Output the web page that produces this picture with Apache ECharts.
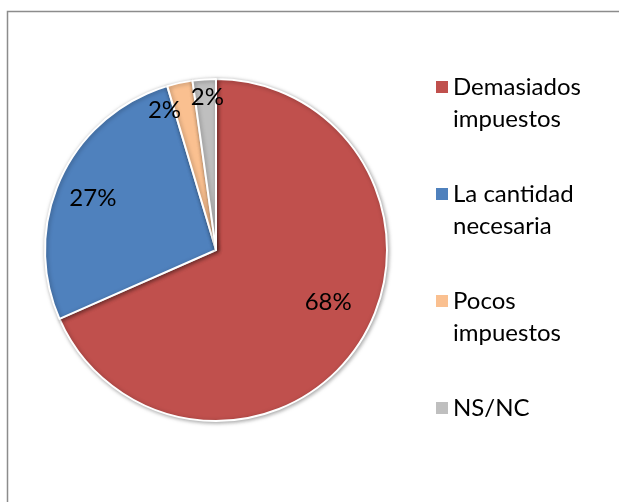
<!DOCTYPE html>
<html>
<head>
<meta charset="utf-8">
<script src="https://cdn.jsdelivr.net/npm/echarts@6/dist/echarts.min.js"></script>
<style>
  html, body { margin: 0; padding: 0; background: #fff; }
  #chart { width: 619px; height: 502px; }
</style>
</head>
<body>
<div id="chart"></div>
<script>
const categories = ['Demasiados impuestos', 'La cantidad necesaria', 'Pocos impuestos', 'NS/NC'];
const values = [68.4, 27.0, 2.4, 2.2];
const colors = ['#C0504D', '#4F81BD', '#FAC090', '#BFBFBF'];

const FONT = 'Lato';
const pieData = categories.map((name, i) => ({ name: name, value: values[i] }));

// legend: blank line on top so the marker sits next to the first line
function legendName(name) {
    const k = name.lastIndexOf(' ');
    const body = k < 0 ? name + '\n ' : name.slice(0, k) + '\n' + name.slice(k + 1);
    return ' \n' + body;
}

// small nudges so the labels sit where the original's do
const labelNudge = [[5, -18], [-7, 2], [-19, 10], [2, 0]];

const chart = echarts.init(document.getElementById('chart'), null, { renderer: 'canvas' });

const labelStyle = {
    position: 'inside',
    fontFamily: FONT,
    fontSize: 24,
    color: '#000'
};

function nudge(params) {
    const n = labelNudge[params.dataIndex];
    return { dx: n[0], dy: n[1], hideOverlap: false };
}

const option = {
    animation: false,
    color: colors,
    graphic: [{
        type: 'rect',
        shape: { x: 7.5, y: 11.5, width: 700, height: 600 },
        style: { fill: 'none', stroke: '#8c8c8c', lineWidth: 1.5 },
        silent: true
    }],
    legend: {
        orient: 'vertical',
        left: 431,
        top: 34,
        itemWidth: 12,
        itemHeight: 12,
        itemGap: 11,
        icon: 'rect',
        formatter: legendName,
        itemStyle: { borderWidth: 0, shadowBlur: 0, shadowOffsetX: 0, shadowOffsetY: 0 },
        textStyle: {
            fontFamily: FONT,
            fontSize: 24,
            color: '#000',
            lineHeight: 32
        }
    },
    series: [
        {
            name: 'main',
            type: 'pie',
            center: [216, 250],
            radius: [0, 171],
            startAngle: 90,
            data: pieData,
            label: { show: false },
            labelLine: { show: false },
            itemStyle: {
                borderColor: '#fff',
                borderWidth: 2,
                shadowBlur: 4,
                shadowColor: 'rgba(0,0,0,0.35)',
                shadowOffsetX: 1,
                shadowOffsetY: 1
            }
        },
        {
            // labels for the big slices
            type: 'pie',
            silent: true,
            center: [216, 250],
            radius: [79, 171],
            startAngle: 90,
            data: pieData,
            itemStyle: { color: 'rgba(0,0,0,0)' },
            labelLine: { show: false },
            labelLayout: nudge,
            label: Object.assign({}, labelStyle, {
                formatter: p => p.percent >= 5 ? Math.round(p.percent) + '%' : ''
            })
        },
        {
            // labels for the thin slices, further out
            type: 'pie',
            silent: true,
            center: [216, 250],
            radius: [130, 171],
            startAngle: 90,
            data: pieData,
            itemStyle: { color: 'rgba(0,0,0,0)' },
            labelLine: { show: false },
            labelLayout: nudge,
            label: Object.assign({}, labelStyle, {
                formatter: p => p.percent < 5 ? Math.round(p.percent) + '%' : ''
            })
        }
    ]
};

chart.setOption(option);
</script>
</body>
</html>
